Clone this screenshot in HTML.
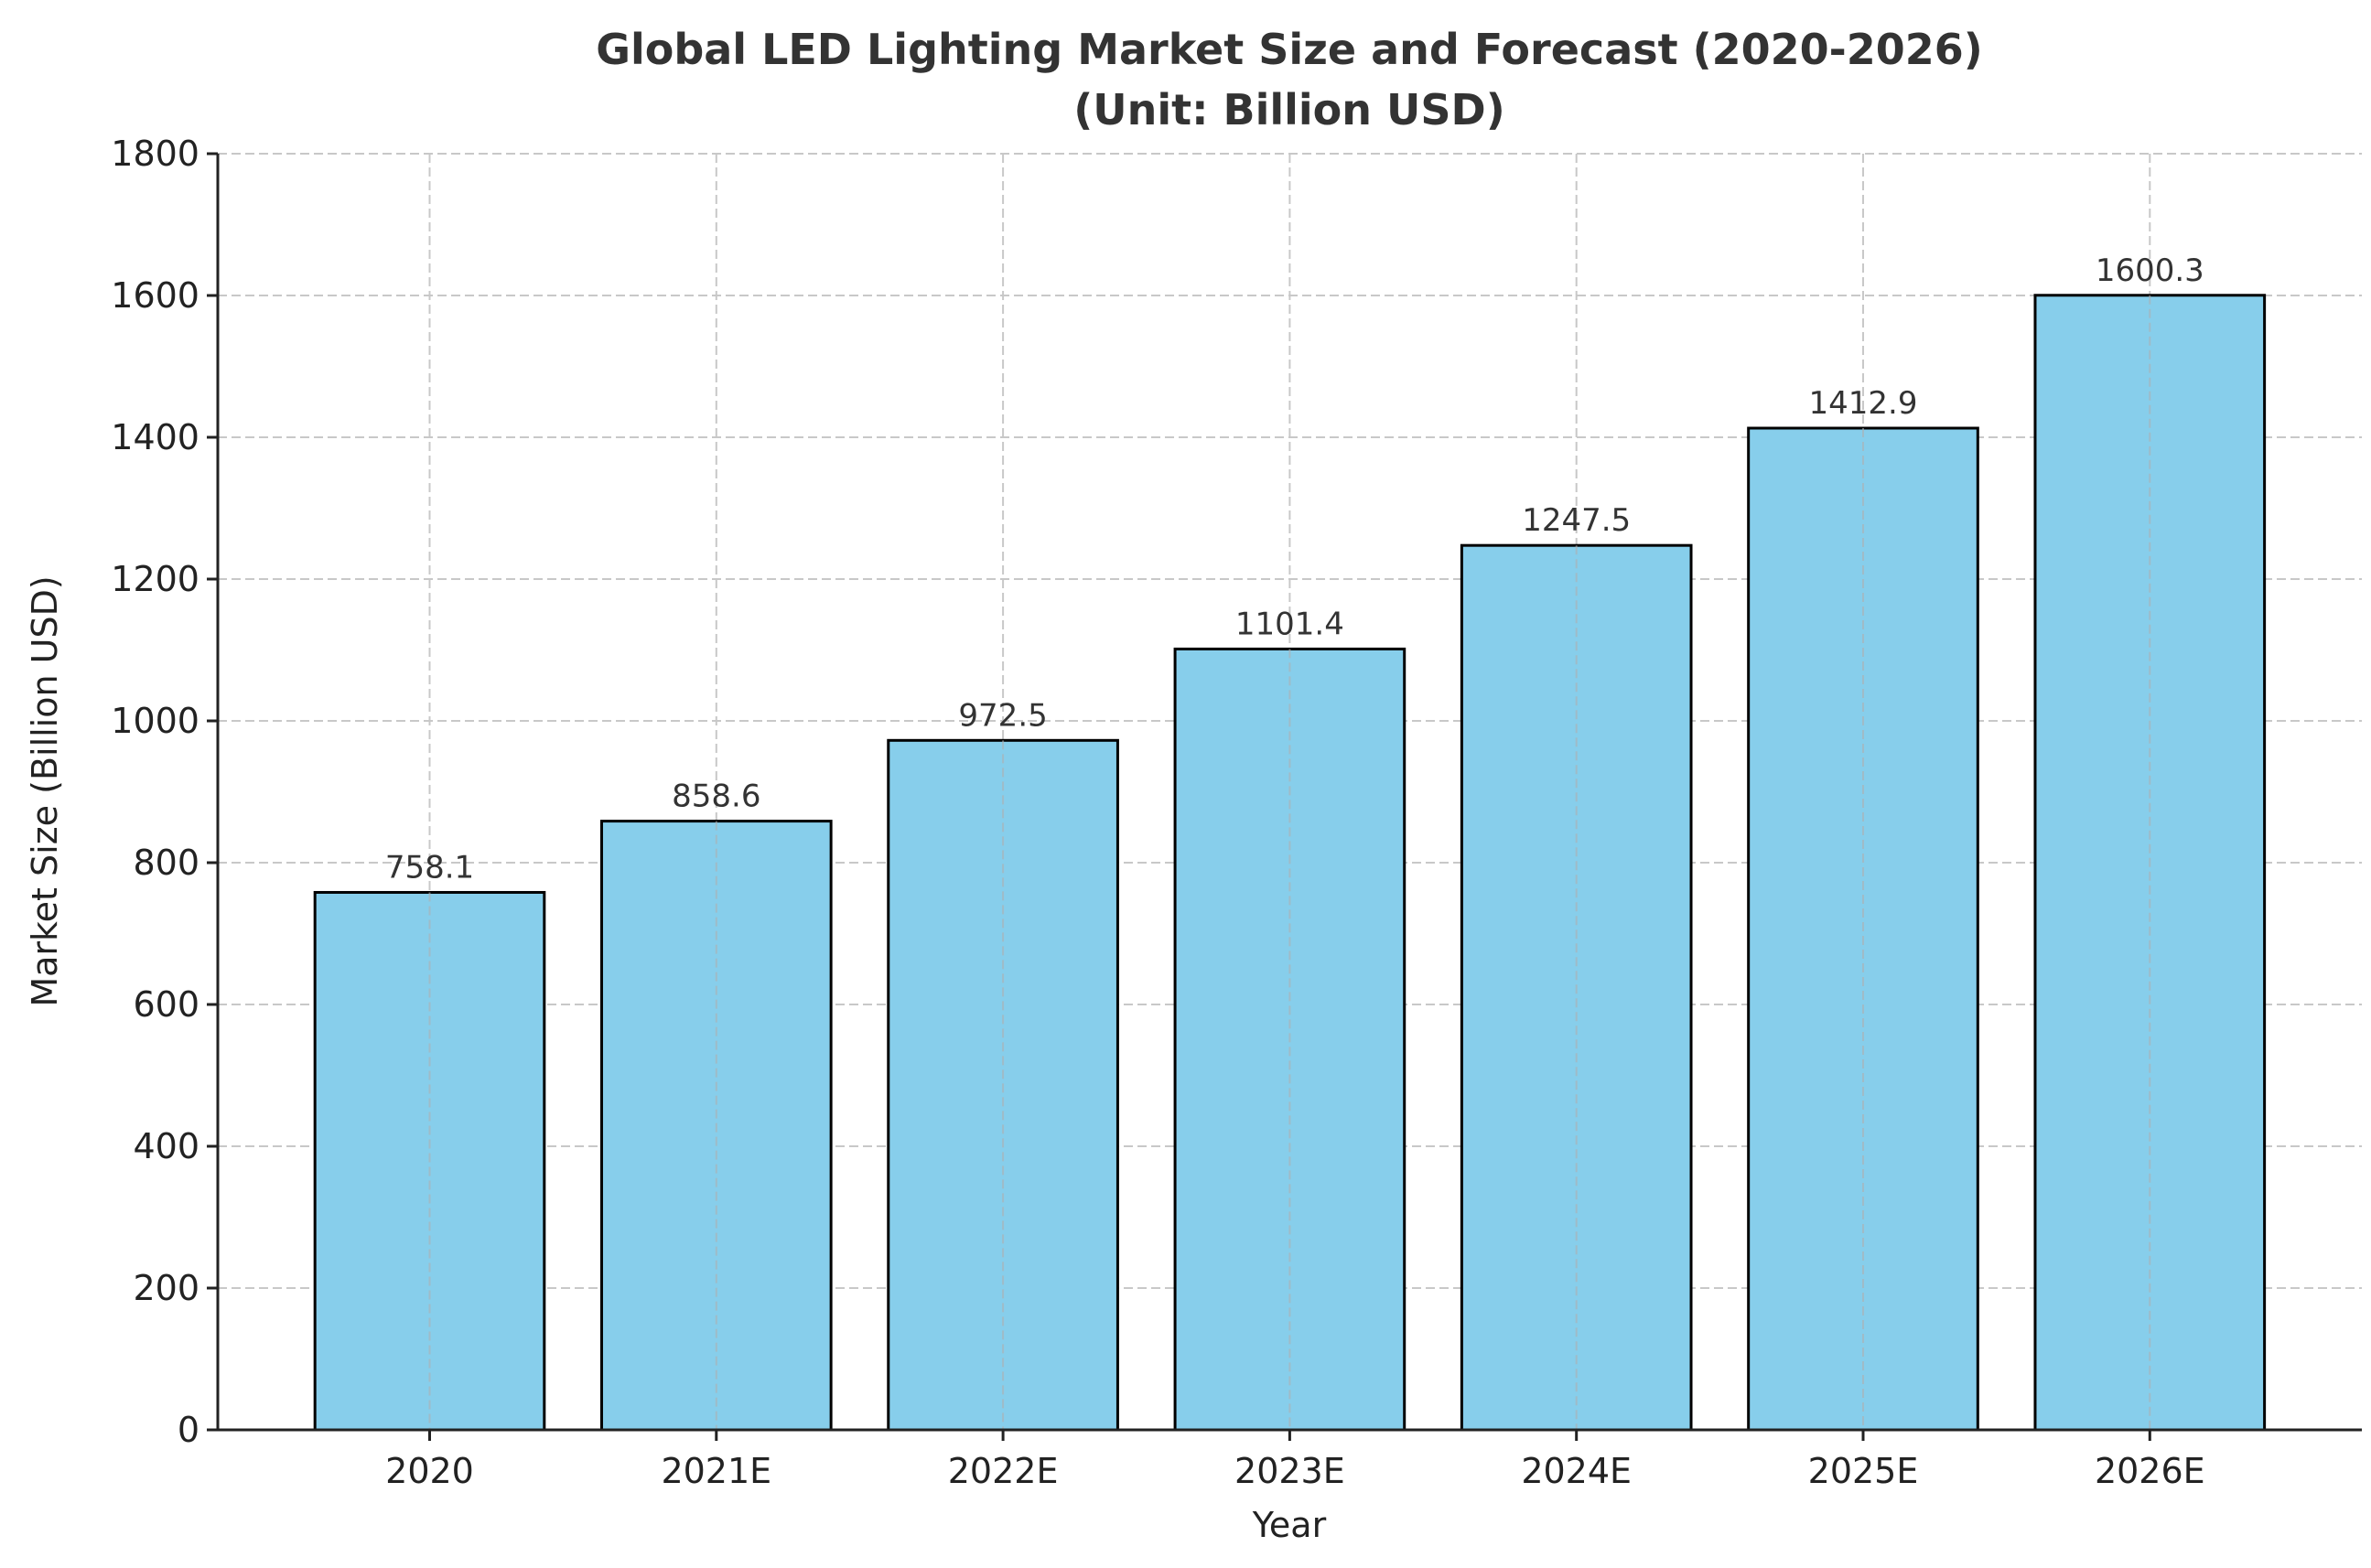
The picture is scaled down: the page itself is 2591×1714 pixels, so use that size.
<!DOCTYPE html>
<html><head><meta charset="utf-8"><style>
html,body{margin:0;padding:0;background:#fff;}
svg text{font-family:"DejaVu Sans","Liberation Sans",sans-serif;}
</style></head><body>
<svg id="chart" width="2591" height="1709" xmlns="http://www.w3.org/2000/svg">
<text x="1409" y="70" text-anchor="middle" font-size="46" font-weight="bold" fill="#333">Global LED Lighting Market Size and Forecast (2020-2026)</text>
<text x="1409" y="136" text-anchor="middle" font-size="46" font-weight="bold" fill="#333">(Unit: Billion USD)</text>
<g id="grid"></g><g id="bars"></g><g id="axes"></g>
<text x="1409" y="1680" text-anchor="middle" font-size="38" fill="#222">Year</text>
<text transform="translate(62,865) rotate(-90)" text-anchor="middle" font-size="38" fill="#222">Market Size (Billion USD)</text>
</svg>
<script>
const categories = ["2020","2021E","2022E","2023E","2024E","2025E","2026E"];
const values = [758.1,858.6,972.5,1101.4,1247.5,1412.9,1600.3];
const yTicks = [0,200,400,600,800,1000,1200,1400,1600,1800];
const L=238,R=2581,T=168,B=1563,yMax=1800;
const x0=469.5,step=313.3;
const xs=i=>x0+i*step;
const ys=v=>B-(v/yMax)*(B-T);
const NS="http://www.w3.org/2000/svg";
function mk(tag,attrs,parent){const e=document.createElementNS(NS,tag);for(const k in attrs)e.setAttribute(k,attrs[k]);parent.appendChild(e);return e;}
const grid=document.getElementById('grid'),bars=document.getElementById('bars'),axes=document.getElementById('axes');
yTicks.forEach(t=>{
  const y=ys(t);
  const g=mk('line',{x1:L,x2:R,y1:y,y2:y,stroke:'#c8c8c8','stroke-width':2,'stroke-dasharray':'10,5'},grid);
  
  
  const tk=mk('line',{x1:L-12,x2:L,y1:y,y2:y,stroke:'#222','stroke-width':3},axes);
  
  
  const lb=mk('text',{x:L-20,y:y+13,'text-anchor':'end','font-size':38,fill:'#222'},axes);
  lb.textContent=t;
  
  
});
categories.forEach((c,i)=>{
  const x=xs(i);
  const g=mk('line',{x1:x,x2:x,y1:T,y2:B,stroke:'#c8c8c8','stroke-width':2,'stroke-dasharray':'10,5'},grid);
  
  
  const w=step*0.8,y=ys(values[i]);
  const r=mk('rect',{x:x-w/2,y:y,width:w,height:B-y,fill:'#87ceeb',stroke:'#000','stroke-width':3},bars);
  
  
  const gl=mk('line',{x1:x,x2:x,y1:y,y2:B,stroke:'#b0b0b0','stroke-width':2,'stroke-dasharray':'10,5',opacity:0.6},bars);
  
  
  const v=mk('text',{x:x,y:y-16,'text-anchor':'middle','font-size':34,fill:'#333'},bars);
  v.textContent=values[i].toFixed(1);
  
  
  const tk=mk('line',{x1:x,x2:x,y1:B,y2:B+12,stroke:'#222','stroke-width':3},axes);
  
  
  const lb=mk('text',{x:x,y:B+58,'text-anchor':'middle','font-size':38,fill:'#222'},axes);
  lb.textContent=c;
  
  
});
const la=mk('line',{x1:L,x2:L,y1:T,y2:B,stroke:'#222','stroke-width':3},axes);


const ba=mk('line',{x1:L,x2:R,y1:B,y2:B,stroke:'#222','stroke-width':3},axes);


</script>
</body></html>
